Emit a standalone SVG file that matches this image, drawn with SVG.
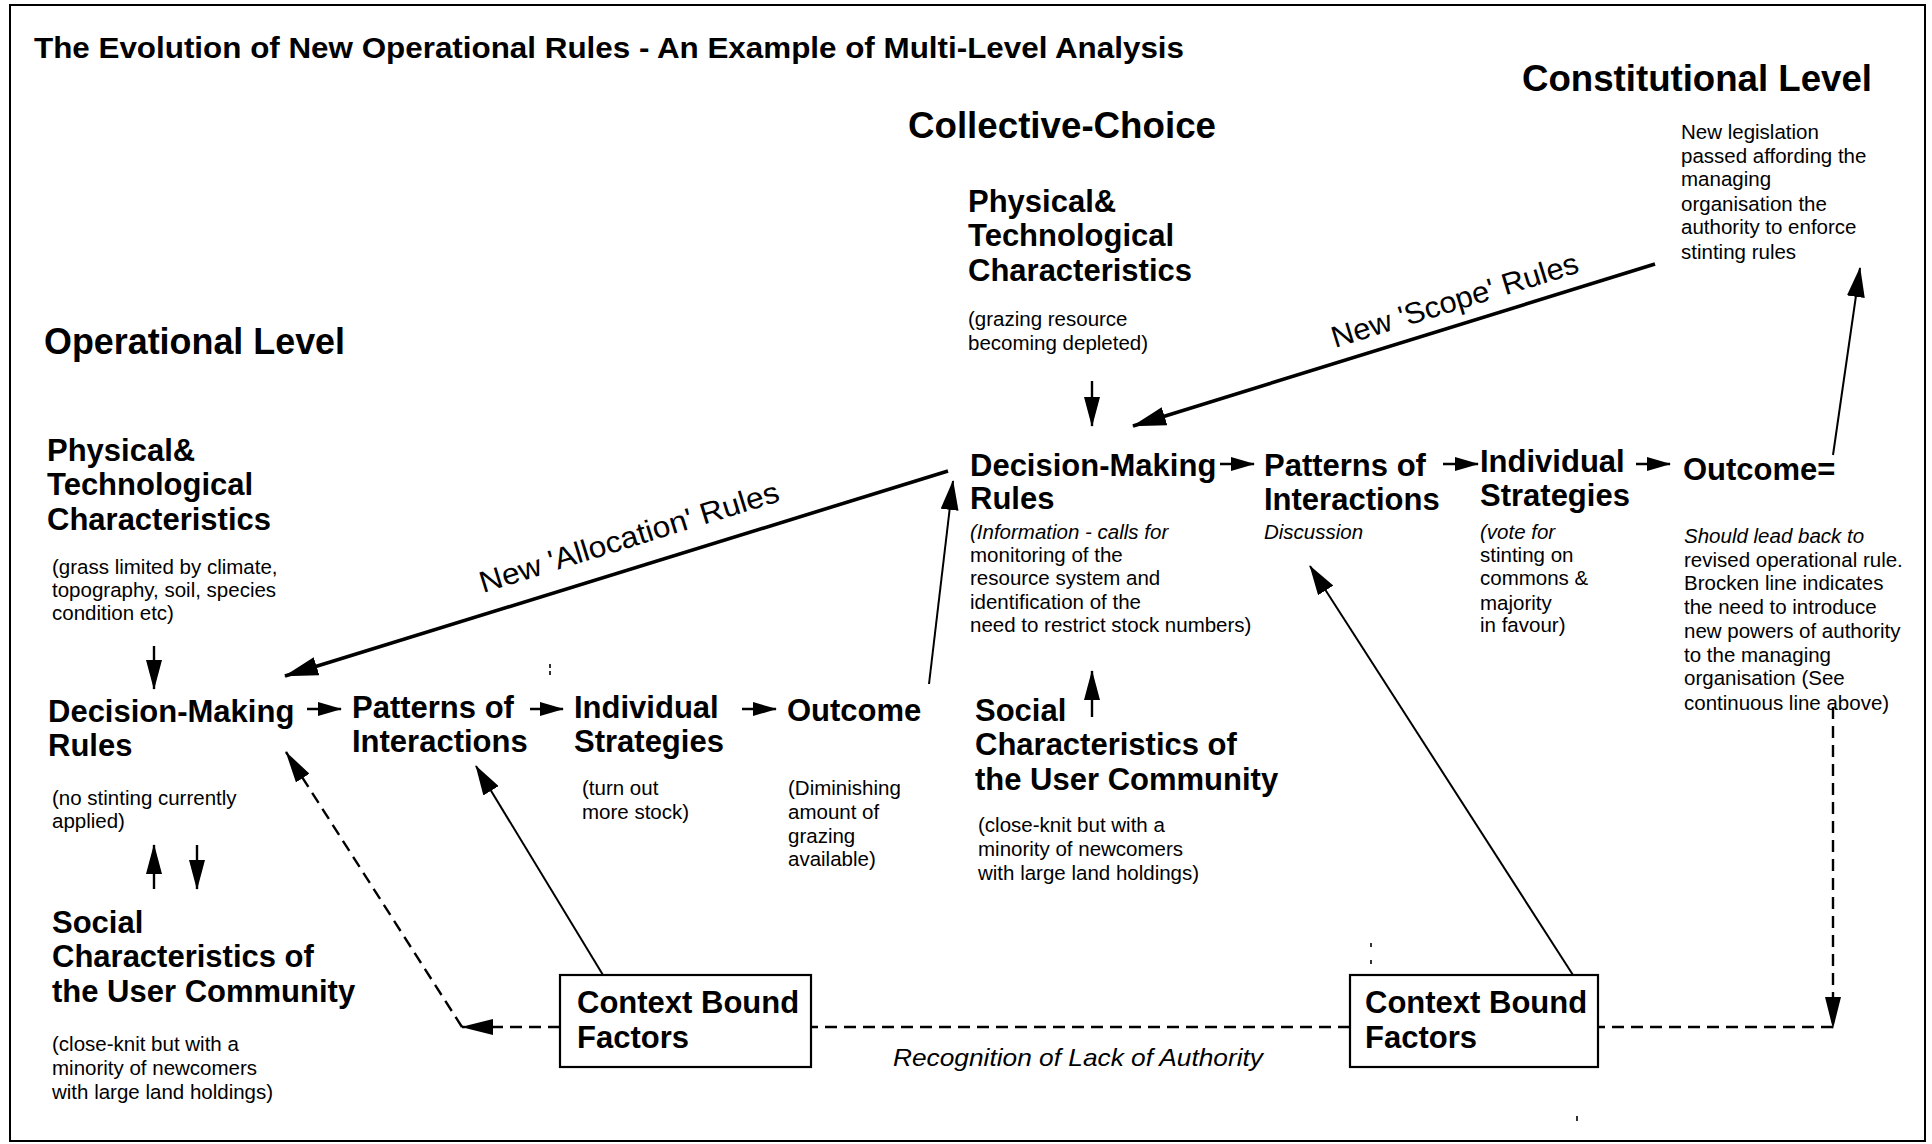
<svg xmlns="http://www.w3.org/2000/svg" width="1932" height="1144" viewBox="0 0 1932 1144">
  <style>
    text { font-family: "Liberation Sans", Arial, Helvetica, sans-serif; fill: #000; }
    .title { font-size: 29px; font-weight: bold; }
    .level { font-size: 36px; font-weight: bold; }
    .head { font-size: 31px; font-weight: bold; }
    .note { font-size: 20.5px; }
    .it { font-style: italic; }
    .rule { font-size: 30px; }
    .recog { font-size: 24px; font-style: italic; }
    .frame { fill: none; stroke: #000; stroke-width: 2; }
    .box { fill: #fff; stroke: #000; stroke-width: 2.2; }
    .thick { fill: none; stroke: #000; stroke-width: 3.6; }
    .thin { fill: none; stroke: #000; stroke-width: 2; }
    .flow { fill: none; stroke: #000; stroke-width: 2.4; }
    .dash { fill: none; stroke: #000; stroke-width: 2.4; stroke-dasharray: 12 7; }
    .speck { fill: none; stroke: #000; stroke-width: 1.6; }
  </style>
  <defs>
    <marker id="ah-lg" markerUnits="userSpaceOnUse" viewBox="0 0 34 20" markerWidth="34" markerHeight="20" refX="33" refY="10" orient="auto">
      <path d="M0,0.5 L34,10 L0,19.5 z"/>
    </marker>
    <marker id="ah-thin" markerUnits="userSpaceOnUse" viewBox="0 0 30 18" markerWidth="30" markerHeight="18" refX="29" refY="9" orient="auto">
      <path d="M0,0 L30,9 L0,18 z"/>
    </marker>
    <marker id="ah-v" markerUnits="userSpaceOnUse" viewBox="0 0 30 16" markerWidth="30" markerHeight="16" refX="29" refY="8" orient="auto">
      <path d="M0,0 L30,8 L0,16 z"/>
    </marker>
    <marker id="ah-sm" markerUnits="userSpaceOnUse" viewBox="0 0 24 14" markerWidth="24" markerHeight="14" refX="23" refY="7" orient="auto">
      <path d="M0,0 L24,7 L0,14 z"/>
    </marker>
    <marker id="ah-dash" markerUnits="userSpaceOnUse" viewBox="0 0 32 16" markerWidth="32" markerHeight="16" refX="31" refY="8" orient="auto">
      <path d="M0,0 L32,8 L0,16 z"/>
    </marker>
  </defs>

  <rect class="frame" x="10" y="5" width="1915" height="1136"/>

  <text class="title" x="34" y="58" textLength="1150" lengthAdjust="spacingAndGlyphs">The Evolution of New Operational Rules - An Example of Multi-Level Analysis</text>

  <!-- level headings -->
  <g id="level-operational"><text class="level" x="44" y="354" textLength="301" lengthAdjust="spacingAndGlyphs">Operational Level</text></g>
  <g id="level-collective"><text class="level" x="908" y="138" textLength="308" lengthAdjust="spacingAndGlyphs">Collective-Choice</text></g>
  <g id="level-constitutional"><text class="level" x="1522" y="91" textLength="350" lengthAdjust="spacingAndGlyphs">Constitutional Level</text></g>

  <!-- operational level -->
  <g id="op-physical">
    <text class="head" x="47" y="461">Physical&amp;</text>
    <text class="head" x="47" y="495">Technological</text>
    <text class="head" x="47" y="530">Characteristics</text>
    <text class="note" x="52" y="574">(grass limited by climate,</text>
    <text class="note" x="52" y="597">topography, soil, species</text>
    <text class="note" x="52" y="620">condition etc)</text>
  </g>
  <g id="op-rules">
    <text class="head" x="48" y="722">Decision-Making</text>
    <text class="head" x="48" y="756">Rules</text>
    <text class="note" x="52" y="805">(no stinting currently</text>
    <text class="note" x="52" y="828">applied)</text>
  </g>
  <g id="op-social">
    <text class="head" x="52" y="933">Social</text>
    <text class="head" x="52" y="967">Characteristics of</text>
    <text class="head" x="52" y="1002">the User Community</text>
    <text class="note" x="52" y="1051">(close-knit but with a</text>
    <text class="note" x="52" y="1075">minority of newcomers</text>
    <text class="note" x="52" y="1099">with large land holdings)</text>
  </g>
  <g id="op-patterns">
    <text class="head" x="352" y="718">Patterns of</text>
    <text class="head" x="352" y="752">Interactions</text>
  </g>
  <g id="op-strategies">
    <text class="head" x="574" y="718">Individual</text>
    <text class="head" x="574" y="752">Strategies</text>
    <text class="note" x="582" y="795">(turn out</text>
    <text class="note" x="582" y="819">more stock)</text>
  </g>
  <g id="op-outcome">
    <text class="head" x="787" y="721">Outcome</text>
    <text class="note" x="788" y="795">(Diminishing</text>
    <text class="note" x="788" y="819">amount of</text>
    <text class="note" x="788" y="843">grazing</text>
    <text class="note" x="788" y="866">available)</text>
  </g>

  <!-- collective-choice level -->
  <g id="cc-physical">
    <text class="head" x="968" y="212">Physical&amp;</text>
    <text class="head" x="968" y="246">Technological</text>
    <text class="head" x="968" y="281">Characteristics</text>
    <text class="note" x="968" y="326">(grazing resource</text>
    <text class="note" x="968" y="350">becoming depleted)</text>
  </g>
  <g id="cc-rules">
    <text class="head" x="970" y="476">Decision-Making</text>
    <text class="head" x="970" y="509">Rules</text>
    <text class="note it" x="970" y="539">(Information - calls for</text>
    <text class="note" x="970" y="562">monitoring of the</text>
    <text class="note" x="970" y="585">resource system and</text>
    <text class="note" x="970" y="609">identification of the</text>
    <text class="note" x="970" y="632">need to restrict stock numbers)</text>
  </g>
  <g id="cc-social">
    <text class="head" x="975" y="721">Social</text>
    <text class="head" x="975" y="755">Characteristics of</text>
    <text class="head" x="975" y="790">the User Community</text>
    <text class="note" x="978" y="832">(close-knit but with a</text>
    <text class="note" x="978" y="856">minority of newcomers</text>
    <text class="note" x="978" y="880">with large land holdings)</text>
  </g>
  <g id="cc-patterns">
    <text class="head" x="1264" y="476">Patterns of</text>
    <text class="head" x="1264" y="510">Interactions</text>
    <text class="note it" x="1264" y="539">Discussion</text>
  </g>
  <g id="cc-strategies">
    <text class="head" x="1480" y="472">Individual</text>
    <text class="head" x="1480" y="506">Strategies</text>
    <text class="note it" x="1480" y="539">(vote for</text>
    <text class="note" x="1480" y="562">stinting on</text>
    <text class="note" x="1480" y="585">commons &amp;</text>
    <text class="note" x="1480" y="610">majority</text>
    <text class="note" x="1480" y="632">in favour)</text>
  </g>
  <g id="cc-outcome">
    <text class="head" x="1683" y="480">Outcome=</text>
    <text class="note it" x="1684" y="543">Should lead back to</text>
    <text class="note" x="1684" y="567">revised operational rule.</text>
    <text class="note" x="1684" y="590">Brocken line indicates</text>
    <text class="note" x="1684" y="614">the need to introduce</text>
    <text class="note" x="1684" y="638">new powers of authority</text>
    <text class="note" x="1684" y="662">to the managing</text>
    <text class="note" x="1684" y="685">organisation (See</text>
    <text class="note" x="1684" y="710">continuous line above)</text>
  </g>

  <!-- constitutional level -->
  <g id="const-legislation">
    <text class="note" x="1681" y="139">New legislation</text>
    <text class="note" x="1681" y="163">passed affording the</text>
    <text class="note" x="1681" y="186">managing</text>
    <text class="note" x="1681" y="211">organisation the</text>
    <text class="note" x="1681" y="234">authority to enforce</text>
    <text class="note" x="1681" y="259">stinting rules</text>
  </g>

  <!-- context boxes -->
  <g id="context-left">
    <rect class="box" x="560" y="975" width="251" height="92"/>
    <text class="head" x="577" y="1013">Context Bound</text>
    <text class="head" x="577" y="1048">Factors</text>
  </g>
  <g id="context-right">
    <rect class="box" x="1350" y="975" width="248" height="92"/>
    <text class="head" x="1365" y="1013">Context Bound</text>
    <text class="head" x="1365" y="1048">Factors</text>
  </g>

  <!-- connectors -->
  <g id="connectors">
    <!-- operational row -->
    <line class="flow" x1="154" y1="646" x2="154" y2="689" marker-end="url(#ah-v)"/>
    <line class="flow" x1="154" y1="889" x2="154" y2="845" marker-end="url(#ah-v)"/>
    <line class="flow" x1="197" y1="845" x2="197" y2="889" marker-end="url(#ah-v)"/>
    <line class="flow" x1="307" y1="709" x2="341" y2="709" marker-end="url(#ah-sm)"/>
    <line class="flow" x1="530" y1="709" x2="563" y2="709" marker-end="url(#ah-sm)"/>
    <line class="flow" x1="742" y1="709" x2="776" y2="709" marker-end="url(#ah-sm)"/>

    <!-- collective-choice row -->
    <line class="flow" x1="1092" y1="381" x2="1092" y2="426" marker-end="url(#ah-v)"/>
    <line class="flow" x1="1092" y1="717" x2="1092" y2="671" marker-end="url(#ah-v)"/>
    <line class="flow" x1="1220" y1="464" x2="1254" y2="464" marker-end="url(#ah-sm)"/>
    <line class="flow" x1="1443" y1="464" x2="1478" y2="464" marker-end="url(#ah-sm)"/>
    <line class="flow" x1="1636" y1="464" x2="1670" y2="464" marker-end="url(#ah-sm)"/>

    <!-- links between levels -->
    <line class="thin" x1="929" y1="684" x2="953" y2="481" marker-end="url(#ah-thin)"/>
    <line class="thick" x1="948" y1="471" x2="285" y2="676" marker-end="url(#ah-lg)"/>
    <line class="thick" x1="1655" y1="264" x2="1133" y2="426" marker-end="url(#ah-lg)"/>
    <line class="thin" x1="1833" y1="455" x2="1860" y2="268" marker-end="url(#ah-thin)"/>

    <!-- context factors -->
    <line class="thin" x1="603" y1="975" x2="476" y2="766" marker-end="url(#ah-thin)"/>
    <line class="thin" x1="1573" y1="975" x2="1310" y2="566" marker-end="url(#ah-thin)"/>

    <!-- broken line: lack of authority -->
    <line class="dash" x1="1833" y1="707" x2="1833" y2="1028" marker-end="url(#ah-dash)"/>
    <line class="dash" x1="1833" y1="1027" x2="1598" y2="1027"/>
    <line class="dash" x1="1350" y1="1027" x2="811" y2="1027"/>
    <line class="dash" x1="560" y1="1027" x2="462" y2="1027" marker-end="url(#ah-dash)"/>
    <line class="dash" x1="462" y1="1027" x2="286" y2="752" marker-end="url(#ah-dash)"/>
  </g>

  <!-- rule labels -->
  <text class="rule" x="483" y="593" transform="rotate(-17.2 483 593)" textLength="312" lengthAdjust="spacingAndGlyphs">New 'Allocation' Rules</text>
  <text class="rule" x="1335" y="348" transform="rotate(-17.2 1335 348)" textLength="257" lengthAdjust="spacingAndGlyphs">New 'Scope' Rules</text>
  <text class="recog" x="893" y="1066" textLength="370" lengthAdjust="spacingAndGlyphs">Recognition of Lack of Authority</text>

  <!-- stray specks -->
  <path class="speck" d="M550,664 v4 M550,671 v4 M1371,943 v4 M1371,960 v4 M1577,1116 v5"/>
</svg>
